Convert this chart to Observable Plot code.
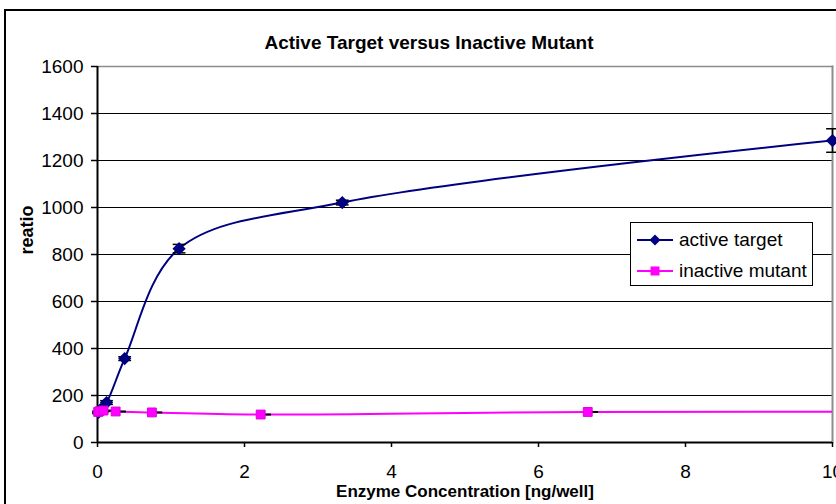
<!DOCTYPE html>
<html>
<head>
<meta charset="utf-8">
<script src="https://cdn.jsdelivr.net/npm/d3@7"></script>
<script src="https://cdn.jsdelivr.net/npm/@observablehq/plot@0.6"></script>
<style>
  html, body { margin: 0; padding: 0; background: #fff; overflow: hidden; }
  body { font-family: Arial, "Liberation Sans", sans-serif; }
  #wrap { position: relative; width: 836px; height: 504px; overflow: hidden; }
  #border { position: absolute; left: 4px; top: 9px; width: 900px; height: 600px; border: 2px solid #000; box-sizing: border-box; pointer-events: none; }
  #chart { position: absolute; left: 0; top: 0; }
  #legend { position: absolute; left: 630px; top: 222px; width: 183px; height: 64px; border: 1.5px solid #000; box-sizing: border-box; background: #fff; font-size: 19px; color: #000; }
  .item { position: absolute; left: 6px; height: 24px; display: flex; align-items: center; white-space: nowrap; }
  .item svg { margin-right: 6px; }
</style>
</head>
<body>
<div id="wrap">
  <div id="chart"></div>
  <div id="border"></div>
  <div id="legend"></div>
</div>
<script>
// ---- data ----
const title = "Active Target versus Inactive Mutant";
const xLabel = "Enzyme Concentration [ng/well]";
const yLabel = "reatio";
const seriesNames = ["active target", "inactive mutant"];
const seriesColors = ["#000080", "#FF00FF"];

const activeX   = [0.0137, 0.041, 0.123, 0.37, 1.11, 3.33, 10];
const activeY   = [128, 140, 170, 357, 825, 1021, 1285];
const activeErr = [5, 6, 8, 8, 18, 10, 50];

const mutantX   = [0.009, 0.027, 0.082, 0.247, 0.74, 2.22, 6.67, 20];
const mutantY   = [130, 133, 136, 132, 128, 119, 130, 130];
const mutantErr = [4, 4, 4, 4, 4, 4, 4, 4];

const xTicks = [0, 2, 4, 6, 8, 10];
const yTicks = [0, 200, 400, 600, 800, 1000, 1200, 1400, 1600];

// ---- tables ----
const active = activeX.map((x, i) => ({x, y: activeY[i], lo: activeY[i] - activeErr[i], hi: activeY[i] + activeErr[i]}));
const mutant = mutantX.map((x, i) => ({x, y: mutantY[i], lo: mutantY[i] - mutantErr[i], hi: mutantY[i] + mutantErr[i]}));
const mutantVisible = mutant.filter(d => d.x <= 10);

const capSymbol = {
  draw(context, size) {
    const w = Math.sqrt(size) * 0.9;
    context.moveTo(-w, 0);
    context.lineTo(w, 0);
  }
};

const font = "Arial, 'Liberation Sans', sans-serif";

const chart = Plot.plot({
  width: 836,
  height: 504,
  marginLeft: 97,
  marginRight: 4,
  marginTop: 66,
  marginBottom: 62,
  style: {fontFamily: font, fontSize: "19px", color: "#000", background: "transparent", overflow: "hidden"},
  x: {domain: [0, 10], type: "linear"},
  y: {domain: [0, 1600]},
  marks: [
    Plot.ruleY(yTicks.filter(d => d > 0 && d < 1600), {stroke: "#000", strokeWidth: 1.2}),
    Plot.frame({anchor: "top", stroke: "#8c8c8c", strokeWidth: 1.5}),
    Plot.frame({anchor: "right", stroke: "#8c8c8c", strokeWidth: 2}),
    Plot.axisY({ticks: yTicks, tickFormat: d => String(d), tickSize: 6, tickPadding: 8, label: null, stroke: "#000", strokeWidth: 1.5, fontSize: 19}),
    Plot.axisX({ticks: xTicks, tickFormat: d => String(d), tickSize: 5, tickPadding: 17, label: null, stroke: "#000", strokeWidth: 1.5, fontSize: 19}),
    Plot.ruleX([0], {stroke: "#000", strokeWidth: 2}),
    Plot.ruleY([0], {stroke: "#000", strokeWidth: 2}),
    // lines
    Plot.line(mutant, {x: "x", y: "y", curve: "catmull-rom", stroke: seriesColors[1], strokeWidth: 2, clip: true}),
    Plot.line(active, {x: "x", y: "y", curve: "catmull-rom", stroke: seriesColors[0], strokeWidth: 2, clip: true}),
    // error bars
    Plot.ruleX(mutantVisible, {x: "x", y1: "lo", y2: "hi", stroke: "#000", strokeWidth: 1.5, dx: 2}),
    Plot.dot(mutantVisible, {x: "x", y: "y", symbol: capSymbol, r: 4, stroke: "#000", strokeWidth: 2, fill: "none", dx: 4}),
    Plot.ruleX(active, {x: "x", y1: "lo", y2: "hi", stroke: "#000", strokeWidth: 1.5}),
    Plot.dot(active, {x: "x", y: "lo", symbol: capSymbol, r: 4, stroke: "#000", strokeWidth: 1.5, fill: "none"}),
    Plot.dot(active, {x: "x", y: "hi", symbol: capSymbol, r: 4, stroke: "#000", strokeWidth: 1.5, fill: "none"}),
    // markers
    Plot.dot(active, {x: "x", y: "y", symbol: "diamond2", r: 5, fill: seriesColors[0], stroke: seriesColors[0]}),
    Plot.dot(mutantVisible, {x: "x", y: "y", symbol: "square", r: 5, fill: seriesColors[1], stroke: "#e000e0", strokeWidth: 1}),
    // texts
    Plot.text([title], {frameAnchor: "top", dx: -36, dy: -31, fontWeight: "bold", fontSize: 19, fill: "#000"}),
    Plot.text([yLabel], {frameAnchor: "left", dx: -70, rotate: -90, fontWeight: "bold", fontSize: 18, fill: "#000"}),
    Plot.text([xLabel], {frameAnchor: "bottom", dy: 54, fontWeight: "bold", fontSize: 17, fill: "#000"})
  ]
});
document.getElementById("chart").appendChild(chart);

// ---- legend ----
const legend = document.getElementById("legend");
const legendSymbols = ["diamond", "square"];
seriesNames.forEach((name, i) => {
  const item = document.createElement("div");
  item.className = "item";
  item.style.top = (i === 0 ? 5 : 36) + "px";
  const ns = "http://www.w3.org/2000/svg";
  const svg = document.createElementNS(ns, "svg");
  svg.setAttribute("width", 36);
  svg.setAttribute("height", 14);
  const line = document.createElementNS(ns, "line");
  line.setAttribute("x1", 0); line.setAttribute("x2", 36);
  line.setAttribute("y1", 7); line.setAttribute("y2", 7);
  line.setAttribute("stroke", seriesColors[i]); line.setAttribute("stroke-width", 2);
  svg.appendChild(line);
  const p = document.createElementNS(ns, "path");
  p.setAttribute("d", legendSymbols[i] === "diamond" ? "M18,1.5L23.5,7L18,12.5L12.5,7Z" : "M13.5,2.5H22.5V11.5H13.5Z");
  p.setAttribute("fill", seriesColors[i]);
  svg.appendChild(p);
  item.appendChild(svg);
  const t = document.createElement("span");
  t.textContent = name;
  item.appendChild(t);
  legend.appendChild(item);
});
</script>
</body>
</html>
